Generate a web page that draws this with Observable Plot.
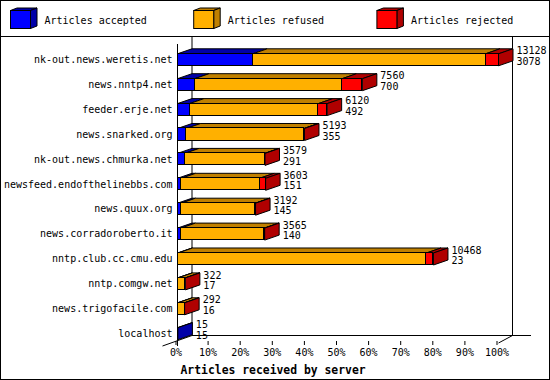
<!DOCTYPE html>
<html><head><meta charset="utf-8">
<script src="https://cdn.jsdelivr.net/npm/d3@7"></script>
<script src="https://cdn.jsdelivr.net/npm/@observablehq/plot@0.6"></script>
<style>
html,body{margin:0;padding:0;background:#fff}
#wrap{width:550px;height:380px;box-sizing:border-box;border:1px solid #000;background:#fff;overflow:hidden}
#legend{height:35px;border-bottom:1px solid #000}
#legend svg,#chart svg{display:block}
</style></head><body>
<div id="wrap"><div id="legend"></div><div id="chart"></div></div>
<script>
// ---- data ----
const servers = ["nk-out.news.weretis.net","news.nntp4.net","feeder.erje.net","news.snarked.org","nk-out.news.chmurka.net","newsfeed.endofthelinebbs.com","news.quux.org","news.corradoroberto.it","nntp.club.cc.cmu.edu","nntp.comgw.net","news.trigofacile.com","localhost"];
const totals   = [13128, 7560, 6120, 5193, 3579, 3603, 3192, 3565, 10468, 322, 292, 15];
const accepted = [3078, 700, 492, 355, 291, 151, 145, 140, 23, 17, 16, 15];
const refused  = [9520, 6030, 5268, 4818, 3273, 3207, 3037, 3415, 10160, 300, 271, 0];
const rejected = [530, 830, 360, 20, 15, 245, 10, 10, 285, 5, 5, 0];
const categories = ["Articles accepted", "Articles refused", "Articles rejected"];
const tickValues = [0, 10, 20, 30, 40, 50, 60, 70, 80, 90, 100];
const axisTitle = "Articles received by server";

// ---- styles ----
const frontColors = ["#0000ff", "#ffb000", "#ff0000"];
const darkColors  = ["#0000a8", "#c08000", "#b00000"];
const FONT = "DejaVu Sans Mono";

// ---- build tables ----
const maxTotal = d3.max(totals);
const series = [accepted, refused, rejected];
const long = [];
servers.forEach((s, i) => {
  const nz = series.map((arr, k) => arr[i] > 0 ? k : -1).filter(k => k >= 0);
  const lastK = nz[nz.length - 1];
  series.forEach((arr, k) => {
    if (arr[i] > 0) long.push({server: s, cat: categories[k], k, pct: arr[i] / maxTotal * 100, last: k === lastK});
  });
});
const rows = servers.map((s, i) => ({server: s, pct: totals[i] / maxTotal * 100, total: totals[i], accepted: accepted[i]}));

// ---- legend ----
const lg = d3.select("#legend").append("svg").attr("width", 548).attr("height", 35);
categories.forEach((c, k) => {
  const x0 = 9.5 + k * 183.2, y0 = 9.5, w = 20, h = 18, dx = 6.5, dy = 2.5;
  const g = lg.append("g").attr("stroke", "#000").attr("stroke-width", 1);
  g.append("polygon").attr("fill", darkColors[k]).attr("points", [[x0,y0],[x0+w,y0],[x0+w+dx,y0-dy],[x0+dx,y0-dy]].join(" "));
  g.append("polygon").attr("fill", darkColors[k]).attr("points", [[x0+w,y0],[x0+w+dx,y0-dy],[x0+w+dx,y0+h-dy],[x0+w,y0+h]].join(" "));
  g.append("rect").attr("x", x0).attr("y", y0).attr("width", w).attr("height", h).attr("fill", frontColors[k]);
  lg.append("text").attr("x", x0 + 34).attr("y", 19.5).attr("dominant-baseline", "middle")
    .attr("font-family", FONT).attr("font-size", 10).attr("fill", "#000").text(c);
});

// ---- 3D helpers ----
const DX = 14.5, DY = 5;
function poly(g, pts, fill) {
  g.append("polygon").attr("points", pts.map(p => p.join(",")).join(" ")).attr("fill", fill).attr("stroke", "#000").attr("stroke-width", 1);
}
function facesRender(index, scales, values) {
  const g = d3.create("svg:g");
  const bw = (scales.scales && scales.scales.y && scales.scales.y.bandwidth) || 12;
  for (const i of index) {
    const d = long[i];
    const a = Math.min(values.x1[i], values.x2[i]) + 0.5, b = Math.max(values.x1[i], values.x2[i]) + 0.5;
    const y0 = values.y[i] + 0.5, y1 = y0 + bw;
    poly(g, [[a,y0],[b,y0],[b+DX,y0-DY],[a+DX,y0-DY]], darkColors[d.k]);
    if (d.last) poly(g, [[b,y0],[b+DX,y0-DY],[b+DX,y1-DY],[b,y1]], darkColors[d.k]);
  }
  return g.node();
}
function wallsRender(index, scales, values, dimensions) {
  const g = d3.create("svg:g").attr("stroke", "#000").attr("stroke-width", 1).attr("fill", "none");
  const xl = Math.round(scales.x(0)) + 0.5, xr = Math.round(scales.x(100)) + 0.5;
  const fb = dimensions.height - dimensions.marginBottom;
  const back = fb - 5.5;
  const line = (p, q) => g.append("line").attr("x1", p[0]).attr("y1", p[1]).attr("x2", q[0]).attr("y2", q[1]);
  line([xl + DX, 0], [xl + DX, back]);
  line([xr + DX - 0.5, 0], [xr + DX - 0.5, back]);
  line([xl + DX, back], [xr + DX + 18, back]);
  line([xl, 7], [xl, fb + 5]);
  line([xl - 15, fb + 5], [xl + DX, back]);
  line([xr, fb + 2], [xr + DX - 0.5, back]);
  return g.node();
}

// ---- chart ----
const W = 548, H = 342;
const chart = Plot.plot({
  width: W, height: H,
  marginLeft: 176, marginRight: 51, marginTop: 0, marginBottom: 38,
  style: {fontFamily: FONT, fontSize: "10px", background: "white", color: "black"},
  x: {domain: [0, 100], axis: null},
  y: {type: "band", domain: servers, range: [9.85, 308.65], paddingInner: 0.518, paddingOuter: 0.259, round: false, axis: null},
  color: {domain: categories, range: frontColors},
  marks: [
    Plot.frame({stroke: "none", render: wallsRender}),
    Plot.barX(long, {x: "pct", y: "server", fill: "cat", render: facesRender}),
    Plot.barX(long, {x: "pct", y: "server", fill: "cat", stroke: "#000", strokeWidth: 1, shapeRendering: "crispEdges"}),
    Plot.text(rows, {x: "pct", y: "server", text: d => `${d.total}\n${d.accepted}`, dx: 18, dy: -3.5, textAnchor: "start", lineHeight: 1.05, fontSize: 10, fill: "#000"}),
    Plot.axisY({tickSize: 0, tickPadding: 5, fontSize: 10, label: null}),
    Plot.axisX({ticks: tickValues, tickFormat: d => d + "%", tickSize: 4, tickPadding: 3, dx: -1.5, fontSize: 10, label: null}),
    Plot.text([{v: 0, t: axisTitle}], {x: "v", frameAnchor: "bottom", text: "t", textAnchor: "start", lineAnchor: "middle", dx: 3, dy: 28.5, fontWeight: "bold", fontSize: 11.4, fill: "#000"})
  ]
});
document.getElementById("chart").appendChild(chart);
</script>
</body></html>
